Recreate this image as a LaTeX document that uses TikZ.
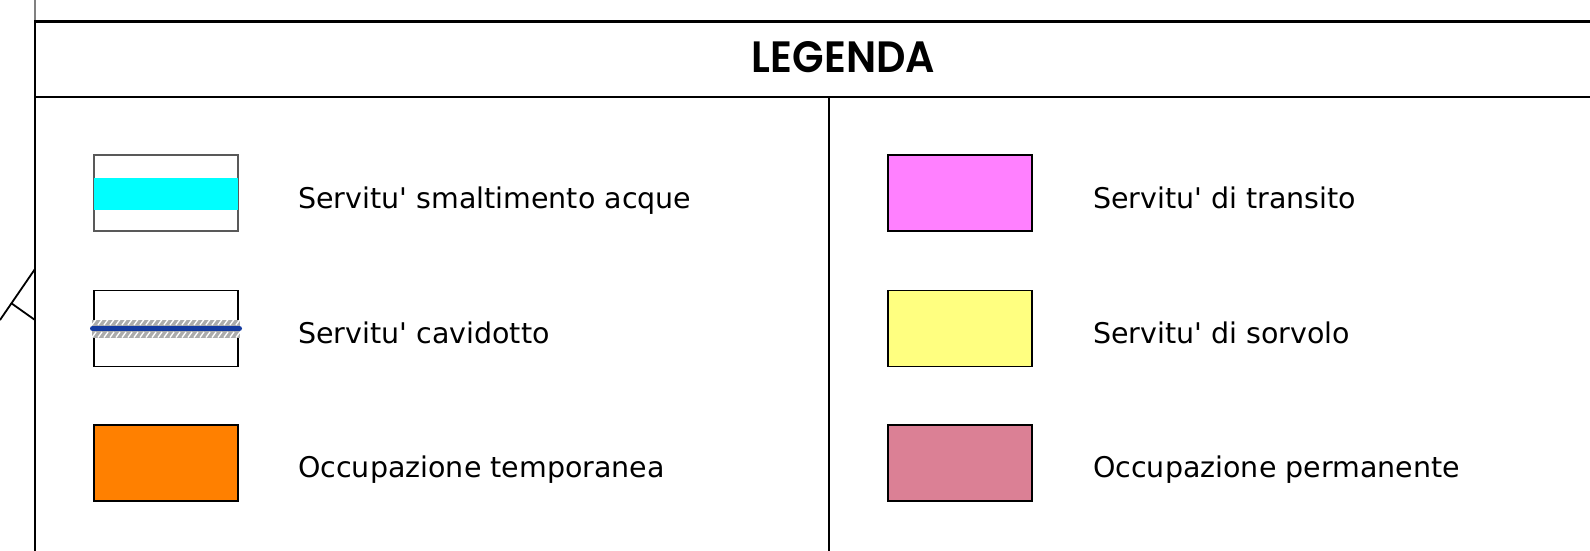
\documentclass[tikz,border=0pt]{standalone}
\usepackage{fontspec}
\setmainfont{DejaVu Sans}
\newfontfamily\titlefont{Poppins SemiBold}
\usepackage{graphicx}
\definecolor{cyanacq}{RGB}{0,255,255}
\definecolor{transito}{RGB}{255,128,255}
\definecolor{sorvolo}{RGB}{255,255,128}
\definecolor{temporanea}{RGB}{255,128,0}
\definecolor{permanente}{RGB}{219,128,149}
\definecolor{cavblue}{RGB}{20,58,160}
\begin{document}
\begin{tikzpicture}[x=1pt,y=-1pt,
  frame/.style={line width=2.4pt,draw=black},
  swatch/.style={draw=black,line width=1.8pt,minimum width=144pt,minimum height=76pt,inner sep=0pt,outer sep=0pt},
  lbl/.style={anchor=base west,inner sep=0pt,font=\fontsize{28.5pt}{30pt}\selectfont}]
\useasboundingbox (0,0) rectangle (1590,551);
% frame
\draw[line width=1.2pt,draw=gray] (35,0) -- (35,21.5);
\coordinate (tl) at (35,21.5);
\coordinate (tr) at (1590,21.5);
\coordinate (ml) at (35,97);
\coordinate (mr) at (1590,97);
\coordinate (bl) at (35,551);
\coordinate (mt) at (829,97);
\coordinate (mb) at (829,551);
\draw[frame] (tr) -- (tl) -- (bl);
\draw[frame] (ml) -- (mr);
\draw[frame] (mt) -- (mb);
% fragment on the left
\coordinate (f1) at (35,269);
\coordinate (f2) at (0,320);
\coordinate (f3) at (11,303);
\coordinate (f4) at (35,320);
\draw[line width=1.8pt] (f1) -- (f2);
\draw[line width=1.8pt] (f3) -- (f4);
% title
\node[anchor=base,inner sep=0pt] (title) at (843.5,72) {\resizebox{183pt}{31pt}{\titlefont LEGENDA}};
% row 1 left: cyan
\node[swatch,draw=gray!70!black,line width=1.4pt] (b1) at (166,193) {};
\fill[cyanacq] (94,178) rectangle (238,210);
\node[lbl] (t1) at (298,208) {Servitu\textquotesingle{} smaltimento acque};
% row 2 left: cavidotto
\node[swatch] (b2) at (166,328.5) {};
\begin{scope}
\clip (92,319.5) rectangle (240,337.5);
\fill[gray!65] (92,319.5) rectangle (240,337.5);
\foreach \x in {86,92,...,246} {
  \draw[white,line width=1.3pt] (\x,325) -- (\x+4,319.5);
  \draw[white,line width=1.3pt] (\x,337.5) -- (\x+4,332);
}
\end{scope}
\coordinate (c1) at (92.5,328.5);
\coordinate (c2) at (239.5,328.5);
\draw[cavblue,line width=5pt,line cap=round] (c1) -- (c2);
\node[lbl] (t2) at (298,343) {Servitu\textquotesingle{} cavidotto};
% row 3 left
\node[swatch,fill=temporanea] (b3) at (166,463) {};
\node[lbl] (t3) at (298,477.5) {Occupazione temporanea};
% right column
\node[swatch,fill=transito] (b4) at (960,193) {};
\node[lbl] (t4) at (1093,208) {Servitu\textquotesingle{} di transito};
\node[swatch,fill=sorvolo] (b5) at (960,328.5) {};
\node[lbl] (t5) at (1093,343) {Servitu\textquotesingle{} di sorvolo};
\node[swatch,fill=permanente] (b6) at (960,463) {};
\node[lbl] (t6) at (1093,477.5) {Occupazione permanente};
\end{tikzpicture}
\end{document}
